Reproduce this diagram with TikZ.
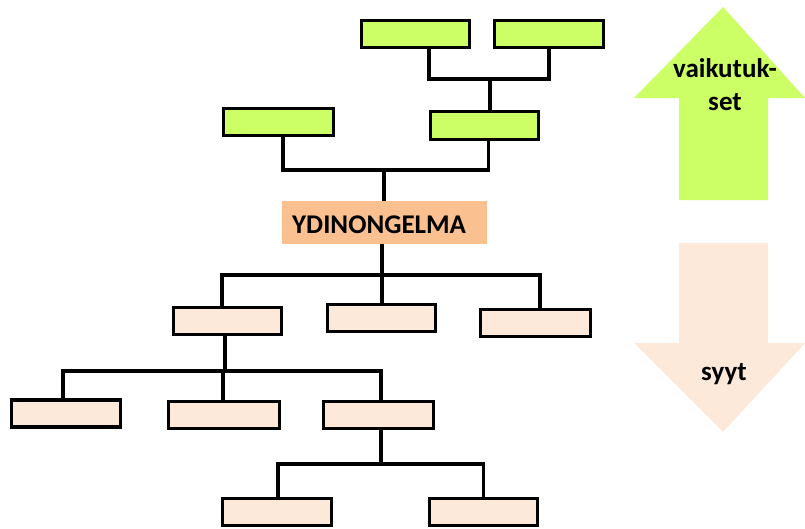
\documentclass[tikz,border=0pt]{standalone}
\usepackage{fontspec}
\setmainfont{Carlito}
\definecolor{limeg}{RGB}{204,255,102}
\definecolor{peach}{RGB}{253,233,217}
\definecolor{coreorange}{RGB}{250,192,144}
\begin{document}
\begin{tikzpicture}[x=1pt,y=-1pt,
  gbox/.style={draw=black, line width=3.2pt, fill=limeg, inner sep=0pt, minimum width=108pt, minimum height=27pt},
  pbox/.style={draw=black, line width=3.2pt, fill=peach, inner sep=0pt, minimum width=108pt, minimum height=27pt},
  conn/.style={draw=black, line width=3.2pt},
  lbl/.style={font=\bfseries\fontsize{27}{33}\selectfont, text=black, align=center, inner sep=0pt}]
\useasboundingbox (0,0) rectangle (805,528);
% big arrows
\fill[limeg] (723,7) -- (805,98) -- (768,98) -- (768,200) -- (679,200) -- (679,98) -- (634,98) -- cycle;
\fill[peach] (679,243) -- (768,243) -- (768,343) -- (805,343) -- (723,432) -- (634,343) -- (679,343) -- cycle;
\node[lbl, anchor=base] (effects) at (725,110) {vaikutuk-\\set};
\node[lbl, anchor=base] (causes) at (724,380) {syyt};
% green boxes
\node[gbox] (g1) at (415.5,34) {};
\node[gbox, minimum width=109pt] (g2) at (549,34) {};
\node[gbox, minimum height=28pt] (g3) at (484.5,125.5) {};
\node[gbox, minimum width=110pt] (g4) at (278.5,122) {};
% core problem
\node[fill=coreorange, minimum width=205pt, minimum height=43pt, inner sep=0pt] (core) at (384.5,222.5) {};
\node[lbl, anchor=base west] (coretext) at (292,233) {YDINONGELMA};
% causes level 1
\node[pbox] (c1) at (227.5,321) {};
\node[pbox] (c2) at (381.5,318) {};
\node[pbox, minimum width=110pt] (c3) at (535.5,323) {};
% causes level 2
\node[pbox, minimum width=109pt] (d1) at (66,413.5) {};
\node[pbox, minimum width=111pt] (d2) at (224,415) {};
\node[pbox, minimum width=110pt] (d3) at (378.5,415) {};
% causes level 3
\node[pbox, minimum width=109pt] (e1) at (277,512) {};
\node[pbox, minimum width=108pt] (e2) at (483.5,512) {};
% junctions
\coordinate (j1) at (490,79);
\coordinate (j2) at (384,170);
\coordinate (j3) at (382,275);
\coordinate (j4) at (223,371);
\coordinate (j5) at (381,464);
% connectors
\draw[conn] ([xshift=13.5pt]g1.south) |- (j1) -| (g2.south);
\draw[conn] (j1) -- (j1 |- g3.north);
\draw[conn] ([xshift=4.5pt]g4.south) |- (j2) -| ([xshift=4pt]g3.south);
\draw[conn] (j2) -- (j2 |- core.north);
\draw[conn] (core.south -| j3) -- (j3);
\draw[conn] ([xshift=-5.5pt]c1.north) |- (j3) -| ([xshift=4.5pt]c3.north);
\draw[conn] (j3) -- (j3 |- c2.north);
\draw[conn] ([xshift=-2.5pt]c1.south) -- ([xshift=-2.5pt]c1.south |- j4);
\draw[conn] ([xshift=-3pt]d1.north) |- (j4) -| ([xshift=2.5pt]d3.north);
\draw[conn] (j4) -- (j4 |- d2.north);
\draw[conn] (d3.south -| j5) -- (j5);
\draw[conn] ([xshift=1pt]e1.north) |- (j5) -| (e2.north);
\end{tikzpicture}
\end{document}
